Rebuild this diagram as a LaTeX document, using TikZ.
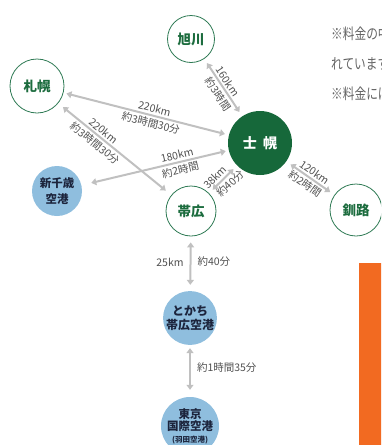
\documentclass[tikz,border=0pt]{standalone}
\usepackage{fontspec}
\setmainfont{Noto Sans CJK JP}
\usetikzlibrary{arrows.meta}
\definecolor{towngreen}{RGB}{28,108,62}
\definecolor{townline}{RGB}{46,122,84}
\definecolor{hubgreen}{RGB}{22,104,58}
\definecolor{airblue}{RGB}{143,190,222}
\definecolor{airtext}{RGB}{28,36,60}
\definecolor{arrowgray}{RGB}{192,192,192}
\definecolor{labelgray}{RGB}{80,80,80}
\definecolor{notegray}{RGB}{100,100,100}
\definecolor{orangebar}{RGB}{242,106,33}

\begin{document}
\begin{tikzpicture}[
    x=1pt, y=-1pt,
    town/.style={circle, draw=townline, line width=0.8pt, fill=white, minimum size=50pt, inner sep=0pt, font=\fontsize{13.5}{14}\selectfont\bfseries, text=towngreen},
    hub/.style={circle, fill=hubgreen, minimum size=64pt, inner sep=0pt, font=\fontsize{14}{15}\selectfont\bfseries, text=white},
    airport/.style={circle, fill=airblue, minimum size=51pt, inner sep=0pt, align=center, text=airtext},
    arrow/.style={{Triangle[length=5pt,width=7pt]}-{Triangle[length=5pt,width=7pt]}, line width=2pt, draw=arrowgray, shorten <=5pt, shorten >=5pt},
    distlabel/.style={font=\fontsize{10.5}{11}\selectfont, text=labelgray, inner sep=2pt},
    remark/.style={font=\fontsize{15}{16}\selectfont, text=notegray, xscale=0.78, anchor=west, inner sep=0pt}
]
\useasboundingbox (0,0) rectangle (381,445);
\clip (0,0) rectangle (381,445);

% Towns
\node[town, minimum size=47pt] (asahikawa) at (191,39) {旭川};
\node[town, minimum size=54pt] (sapporo) at (37,86) {札幌};
\node[hub] (shihoro) at (260,143) {士\hspace{0.45em}幌};
\node[town] (obihiro) at (191,211) {帯広};
\node[town, minimum size=52pt] (kushiro) at (356,210) {釧路};

% Airports
\node[airport, minimum size=50pt, font=\fontsize{11.5}{16}\selectfont\bfseries] (chitose) at (57,191) {新千歳\\空港};
\node[airport, minimum size=52pt, font=\fontsize{12}{14}\selectfont\bfseries] (tokachi) at (190,318) {とかち\\帯広空港};
\node[airport, minimum size=52pt, font=\fontsize{11.5}{12}\selectfont\bfseries] (haneda) at (190,426) {東京\\国際空港\\{\fontsize{7.5}{9}\selectfont (羽田空港)}};

% Edges
\draw[arrow] (asahikawa) -- (shihoro)
    node[distlabel, pos=.46, sloped, above] {160km}
    node[distlabel, pos=.54, sloped, below] {約3時間};
\draw[arrow, shorten <=3pt, shorten >=4pt] (sapporo) -- (shihoro)
    node[distlabel, pos=.54, sloped, above] {220km}
    node[distlabel, pos=.54, sloped, below] {約3時間30分};
\draw[arrow, shorten <=6pt, shorten >=7pt] (sapporo) -- (obihiro)
    node[distlabel, pos=.36, sloped, above] {220km}
    node[distlabel, pos=.37, sloped, below] {約3時間30分};
\draw[arrow, shorten <=10pt, shorten >=3pt] (chitose) -- (shihoro)
    node[distlabel, pos=.66, sloped, above] {180km}
    node[distlabel, pos=.66, sloped, below] {約2時間};
\draw[arrow] (obihiro) -- (shihoro)
    node[distlabel, pos=.4, sloped, above] {38km}
    node[distlabel, pos=.56, sloped, below] {約40分};
\draw[arrow] (shihoro) -- (kushiro)
    node[distlabel, pos=.5, sloped, above] {120km}
    node[distlabel, pos=.48, sloped, below] {約2時間};
\draw[arrow, shorten <=6pt, shorten >=6pt] (obihiro) -- (tokachi)
    node[distlabel, pos=.47, left=4pt] {25km}
    node[distlabel, pos=.47, right=4pt] {約40分};
\draw[arrow, shorten <=3pt, shorten >=7pt] (tokachi) -- (haneda)
    node[distlabel, pos=.43, right=4pt] {約1時間35分};

% Notes and bar
\node[remark] (note1) at (331,34) {※料金の中に};
\node[remark] (note2) at (331,64) {れています};
\node[remark] (note3) at (331,94) {※料金には};
\fill[orangebar] (359,263) rectangle (390,450);
\end{tikzpicture}
\end{document}
